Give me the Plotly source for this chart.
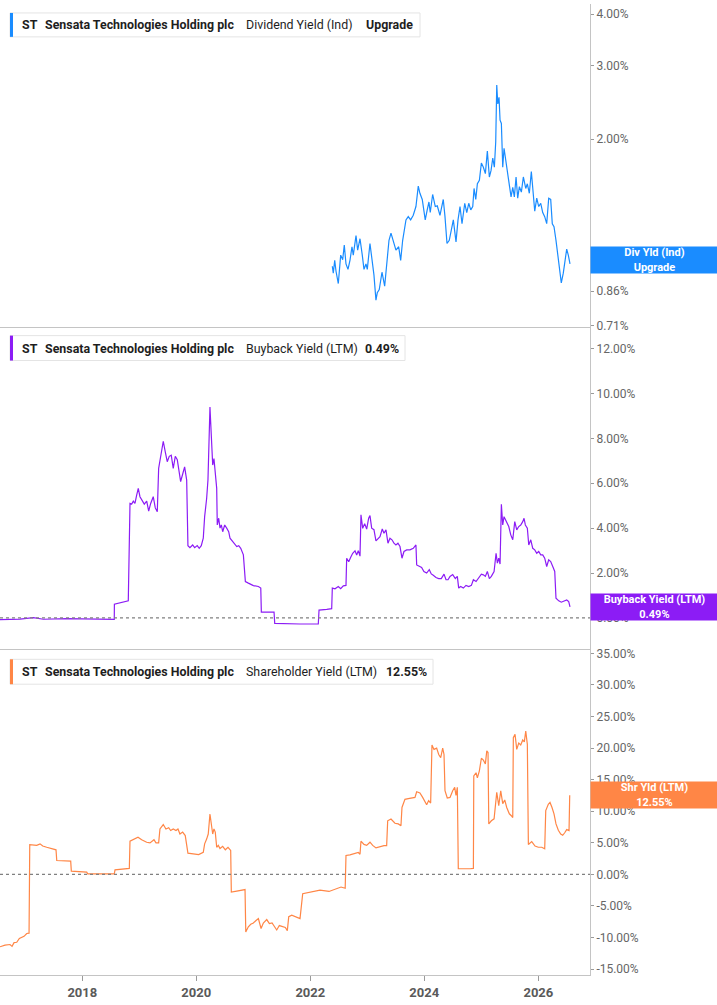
import math
import pandas as pd
import plotly.graph_objects as go

# ---- data (decimal years, values in %) ----
div_years = [2022.386, 2022.403, 2022.428, 2022.451, 2022.491, 2022.533, 2022.568, 2022.596, 2022.626, 2022.661,
             2022.696, 2022.731, 2022.754, 2022.802, 2022.831, 2022.872, 2022.912, 2022.942, 2022.977, 2023.000,
             2023.047, 2023.088, 2023.117, 2023.152, 2023.175, 2023.210, 2023.258, 2023.305, 2023.340, 2023.381,
             2023.416, 2023.456, 2023.503, 2023.551, 2023.586, 2023.621, 2023.679, 2023.719, 2023.761, 2023.807,
             2023.854, 2023.895, 2023.924, 2023.965, 2024.017, 2024.052, 2024.082, 2024.105, 2024.147, 2024.193,
             2024.228, 2024.275, 2024.333, 2024.363, 2024.398, 2024.438, 2024.486, 2024.509, 2024.556, 2024.591,
             2024.626, 2024.661, 2024.709, 2024.744, 2024.779, 2024.814, 2024.849, 2024.872, 2024.902, 2024.930,
             2024.965, 2025.000, 2025.035, 2025.070, 2025.105, 2025.140, 2025.170, 2025.200, 2025.228, 2025.252,
             2025.270, 2025.288, 2025.310, 2025.328, 2025.351, 2025.375, 2025.398, 2025.421, 2025.456, 2025.491,
             2025.521, 2025.551, 2025.579, 2025.609, 2025.638, 2025.667, 2025.702, 2025.737, 2025.779, 2025.807,
             2025.842, 2025.877, 2025.912, 2025.937, 2025.972, 2026.007, 2026.042, 2026.077, 2026.112, 2026.147,
             2026.182, 2026.217, 2026.245, 2026.275, 2026.310, 2026.340, 2026.368, 2026.403, 2026.438, 2026.468,
             2026.498, 2026.526, 2026.556]
div_vals = [0.987, 0.95, 1.02, 0.96, 0.897, 1.05, 1.024, 1.11, 1.0, 0.97,
            1.02, 1.10, 1.05, 1.17, 1.08, 1.15, 1.05, 0.97, 1.0, 0.97,
            1.12, 1.0, 0.94, 0.818, 0.852, 0.867, 0.955, 0.884, 1.0, 1.14,
            1.186, 1.14, 1.08, 1.10, 1.02, 1.14, 1.277, 1.30, 1.277, 1.31,
            1.375, 1.54, 1.48, 1.43, 1.277, 1.35, 1.41, 1.33, 1.47, 1.375,
            1.38, 1.31, 1.43, 1.30, 1.12, 1.14, 1.23, 1.277, 1.13, 1.277,
            1.375, 1.25, 1.40, 1.33, 1.40, 1.35, 1.375, 1.52, 1.43, 1.56,
            1.59, 1.75, 1.71, 1.65, 1.87, 1.62, 1.68, 1.80, 1.71, 1.97,
            2.70, 2.43, 2.52, 2.22, 2.18, 1.71, 1.90, 1.81, 1.65, 1.535,
            1.45, 1.53, 1.45, 1.62, 1.44, 1.535, 1.49, 1.62, 1.52, 1.56,
            1.48, 1.67, 1.45, 1.34, 1.44, 1.375, 1.40, 1.33, 1.30, 1.25,
            1.44, 1.43, 1.25, 1.23, 1.14, 1.06, 0.987, 0.90, 0.95, 1.02,
            1.086, 1.05, 1.0]

bb_years = [2016.556, 2016.907, 2017.140, 2017.316, 2017.726, 2018.193, 2018.561, 2018.563, 2018.807, 2018.837,
            2018.867, 2018.895, 2018.924, 2018.954, 2018.982, 2019.012, 2019.059, 2019.088, 2019.130, 2019.165,
            2019.200, 2019.245, 2019.281, 2019.316, 2019.340, 2019.363, 2019.393, 2019.421, 2019.456, 2019.491,
            2019.526, 2019.561, 2019.596, 2019.632, 2019.667, 2019.702, 2019.726, 2019.761, 2019.796, 2019.832,
            2019.854, 2019.889, 2019.937, 2019.972, 2020.017, 2020.052, 2020.088, 2020.123, 2020.147, 2020.182,
            2020.205, 2020.240, 2020.263, 2020.288, 2020.310, 2020.333, 2020.358, 2020.368, 2020.393, 2020.416,
            2020.439, 2020.463, 2020.498, 2020.533, 2020.568, 2020.591, 2020.638, 2020.674, 2020.709, 2020.744,
            2020.779, 2020.825, 2020.860, 2020.912, 2021.000, 2021.088, 2021.130, 2021.140, 2021.363, 2021.375,
            2021.586, 2021.819, 2022.140, 2022.153, 2022.288, 2022.375, 2022.386, 2022.433, 2022.491, 2022.533,
            2022.579, 2022.626, 2022.638, 2022.674, 2022.709, 2022.744, 2022.784, 2022.814, 2022.842, 2022.872,
            2022.889, 2022.919, 2022.954, 2022.989, 2023.024, 2023.047, 2023.077, 2023.117, 2023.152, 2023.187,
            2023.223, 2023.263, 2023.293, 2023.328, 2023.363, 2023.398, 2023.433, 2023.468, 2023.503, 2023.538,
            2023.574, 2023.609, 2023.644, 2023.691, 2023.749, 2023.807, 2023.854, 2023.867, 2023.912, 2023.954,
            2023.994, 2024.042, 2024.088, 2024.123, 2024.158, 2024.205, 2024.253, 2024.298, 2024.346, 2024.381,
            2024.416, 2024.451, 2024.498, 2024.544, 2024.579, 2024.603, 2024.638, 2024.684, 2024.731, 2024.779,
            2024.825, 2024.860, 2024.907, 2024.954, 2025.000, 2025.035, 2025.070, 2025.105, 2025.140, 2025.175,
            2025.223, 2025.258, 2025.281, 2025.305, 2025.328, 2025.351, 2025.375, 2025.398, 2025.433, 2025.481,
            2025.516, 2025.551, 2025.586, 2025.621, 2025.656, 2025.691, 2025.726, 2025.749, 2025.772, 2025.807,
            2025.832, 2025.867, 2025.902, 2025.937, 2025.972, 2026.007, 2026.042, 2026.077, 2026.112, 2026.147,
            2026.182, 2026.217, 2026.253, 2026.288, 2026.310, 2026.358, 2026.403, 2026.451, 2026.498, 2026.533,
            2026.556]
bb_vals = [-0.08, -0.05, 0.01, -0.06, -0.03, -0.06, -0.06, 0.61, 0.76, 5.10,
           5.07, 5.2, 5.1, 5.47, 5.77, 5.4, 5.2, 5.07, 5.2, 4.76,
           5.1, 5.4, 4.9, 4.73, 6.66, 6.96, 7.33, 7.87, 7.4, 6.96,
           7.2, 7.25, 6.66, 7.2, 7.05, 6.5, 6.07, 6.4, 6.73, 6.14,
           3.22, 3.13, 3.25, 3.13, 3.22, 3.1, 3.22, 3.55, 4.51, 5.32,
           6.14, 9.4, 7.84, 6.81, 7.1, 6.36, 5.77, 4.14, 4.44, 4.0,
           4.14, 3.84, 4.14, 4.0, 3.84, 3.55, 3.4, 3.25, 3.18, 3.22,
           3.1, 2.81, 1.62, 1.55, 1.44, 1.4, 1.33, 0.26, 0.26, -0.24,
           -0.26, -0.27, -0.27, 0.35, 0.38, 0.41, 1.33, 1.3, 1.4, 1.3,
           1.43, 1.45, 2.66, 2.5, 2.7, 2.88, 2.99, 2.8, 3.0, 2.75,
           4.59, 3.99, 4.2, 3.96, 4.44, 4.56, 4.0, 3.93, 3.43, 3.55,
           3.62, 3.96, 3.77, 3.92, 3.33, 3.55, 3.48, 3.33, 3.25, 3.33,
           3.18, 2.66, 2.96, 3.03, 3.03, 3.1, 3.25, 2.36, 2.29, 2.25,
           2.07, 2.0, 2.15, 1.96, 1.9, 1.8, 1.75, 1.75, 1.95, 1.7,
           1.7, 1.85, 1.93, 1.75, 1.85, 1.33, 1.4, 1.33, 1.45, 1.4,
           1.45, 1.7, 1.62, 1.8, 1.95, 1.92, 1.85, 2.07, 1.75, 1.85,
           2.07, 2.88, 2.44, 2.66, 2.4, 5.06, 4.14, 4.51, 4.29, 4.07,
           3.7, 3.48, 4.29, 3.92, 4.07, 4.14, 4.29, 4.44, 4.14, 4.0,
           3.25, 3.48, 3.1, 3.03, 2.88, 2.96, 2.81, 2.81, 2.66, 2.29,
           2.59, 2.51, 2.29, 2.07, 0.88, 0.76, 0.7, 0.76, 0.8, 0.73,
           0.49]

shy_years = [2016.556, 2016.644, 2016.731, 2016.767, 2016.802, 2016.849, 2016.895, 2016.937, 2016.977, 2017.024,
             2017.065, 2017.077, 2017.140, 2017.200, 2017.258, 2017.305, 2017.375, 2017.463, 2017.538, 2017.551,
             2017.667, 2017.796, 2017.807, 2017.960, 2018.077, 2018.095, 2018.310, 2018.561, 2018.574, 2018.719,
             2018.825, 2018.837, 2018.895, 2018.977, 2019.042, 2019.130, 2019.188, 2019.258, 2019.293, 2019.340,
             2019.363, 2019.421, 2019.468, 2019.516, 2019.551, 2019.596, 2019.644, 2019.679, 2019.714, 2019.761,
             2019.807, 2019.854, 2019.947, 2020.042, 2020.123, 2020.147, 2020.182, 2020.210, 2020.240, 2020.263,
             2020.288, 2020.310, 2020.333, 2020.358, 2020.386, 2020.416, 2020.463, 2020.509, 2020.556, 2020.603,
             2020.614, 2020.709, 2020.854, 2020.867, 2020.912, 2020.954, 2021.000, 2021.047, 2021.088, 2021.135,
             2021.175, 2021.235, 2021.281, 2021.328, 2021.363, 2021.410, 2021.456, 2021.516, 2021.561, 2021.596,
             2021.621, 2021.674, 2021.749, 2021.819, 2021.866, 2022.012, 2022.170, 2022.328, 2022.493, 2022.539,
             2022.612, 2022.626, 2022.696, 2022.784, 2022.842, 2022.872, 2022.889, 2022.942, 2022.989, 2023.047,
             2023.095, 2023.152, 2023.223, 2023.293, 2023.340, 2023.358, 2023.416, 2023.486, 2023.544, 2023.591,
             2023.609, 2023.661, 2023.719, 2023.779, 2023.837, 2023.867, 2023.924, 2023.972, 2024.007, 2024.042,
             2024.077, 2024.112, 2024.135, 2024.170, 2024.217, 2024.253, 2024.288, 2024.323, 2024.346, 2024.363,
             2024.403, 2024.451, 2024.498, 2024.533, 2024.556, 2024.579, 2024.596, 2024.684, 2024.802, 2024.860,
             2024.867, 2024.907, 2024.930, 2024.965, 2025.000, 2025.035, 2025.070, 2025.095, 2025.117, 2025.130,
             2025.175, 2025.223, 2025.270, 2025.305, 2025.340, 2025.375, 2025.410, 2025.445, 2025.491, 2025.526,
             2025.551, 2025.561, 2025.591, 2025.621, 2025.656, 2025.691, 2025.726, 2025.754, 2025.779, 2025.807,
             2025.825, 2025.884, 2025.942, 2026.000, 2026.060, 2026.112, 2026.130, 2026.175, 2026.205, 2026.240,
             2026.275, 2026.310, 2026.351, 2026.393, 2026.428, 2026.463, 2026.498, 2026.539, 2026.551]
shy_vals = [-11.46, -11.2, -11.1, -11.4, -10.8, -10.75, -10.15, -9.9, -9.8, -9.36,
            -9.3, 4.73, 4.68, 4.6, 4.84, 4.5, 4.3, 4.1, 3.9, 2.2,
            2.15, 2.1, 0.53, 0.5, 0.37, 0.1, 0.1, 0.1, 0.73, 0.85,
            0.95, 5.26, 5.5, 5.9, 5.5, 5.1, 5.0, 5.5, 5.0, 5.0,
            7.2, 7.9, 7.2, 7.4, 6.95, 7.2, 6.95, 7.2, 6.4, 6.7,
            6.15, 3.36, 3.25, 3.15, 3.5, 4.84, 5.6, 6.4, 9.57, 7.7,
            6.4, 7.2, 6.7, 4.3, 4.6, 4.1, 4.45, 3.9, 4.3, 3.8,
            -2.8, -2.65, -2.4, -9.1, -8.3, -7.9, -7.7, -7.3, -7.0, -8.57,
            -7.7, -7.15, -7.8, -7.7, -8.1, -8.8, -8.1, -8.3, -8.4, -8.9,
            -6.7, -6.45, -6.7, -7.0, -3.05, -2.8, -2.5, -2.7, -2.1, -2.0,
            -2.2, 3.0, 3.1, 3.3, 3.47, 3.2, 5.26, 4.75, 4.6, 5.1,
            4.6, 4.2, 4.4, 4.55, 4.55, 8.5, 8.78, 8.1, 8.0, 7.7,
            10.6, 11.9, 12.0, 12.1, 12.2, 13.1, 12.9, 12.2, 11.5, 11.04,
            11.7, 11.3, 20.5, 19.8, 20.0, 19.0, 18.5, 20.0, 19.0, 13.25,
            12.1, 12.2, 13.25, 13.8, 12.5, 13.8, 0.9, 0.85, 0.9, 0.95,
            15.6, 16.1, 15.3, 16.4, 18.4, 18.1, 17.5, 19.56, 19.3, 8.0,
            8.5, 8.8, 13.0, 10.9, 13.25, 11.2, 11.8, 10.6, 9.6, 9.3,
            9.0, 21.65, 22.2, 19.8, 20.8, 20.5, 21.3, 21.0, 22.7, 20.6,
            4.73, 5.2, 4.5, 4.3, 4.3, 4.05, 10.1, 11.1, 11.4, 10.6,
            9.6, 8.0, 7.0, 6.4, 6.2, 6.6, 7.1, 6.94, 12.55]

div_ticks = [0.71, 0.86, 1.0, 2.0, 3.0, 4.0]
bb_ticks = [0, 2, 4, 6, 8, 10, 12]
shy_ticks = [-15, -10, -5, 0, 5, 10, 15, 20, 25, 30, 35]
year_ticks = [2018, 2020, 2022, 2024, 2026]

BLUE = "#1a8cff"
PURPLE = "#8c1cf5"
ORANGE = "#ff8646"
FONT = "Roboto"

W, H = 717, 1005
PW, PH = 590, 975  # plot area in px


def to_date(yr):
    y = int(yr)
    start = pd.Timestamp(year=y, month=1, day=1)
    end = pd.Timestamp(year=y + 1, month=1, day=1)
    return start + (end - start) * (yr - y)


def to_dates(years):
    return [to_date(v) for v in years]


def px_x(p):
    return p / PW


def px_y(p):
    return 1 - p / PH


def dom(top, bot):
    return [1 - bot / PH, 1 - top / PH]


fig = go.Figure()
fig.add_trace(go.Scatter(x=to_dates(div_years), y=div_vals, mode="lines", xaxis="x", yaxis="y",
                         line=dict(color=BLUE, width=1.2), hoverinfo="skip"))
fig.add_trace(go.Scatter(x=to_dates(bb_years), y=bb_vals, mode="lines", xaxis="x2", yaxis="y2",
                         line=dict(color=PURPLE, width=1.2), hoverinfo="skip"))
fig.add_trace(go.Scatter(x=to_dates(shy_years), y=shy_vals, mode="lines", xaxis="x3", yaxis="y3",
                         line=dict(color=ORANGE, width=1.2), hoverinfo="skip"))

xrange = [to_date(2016.556), to_date(2026.907)]
xbase = dict(range=xrange, type="date", showgrid=False, zeroline=False, showline=True,
             linecolor="#c4c4c4", linewidth=1)
ybase = dict(side="right", showgrid=False, zeroline=False, showline=True, linecolor="#c4c4c4",
             linewidth=1, ticks="outside", ticklen=3, tickcolor="#9a9a9a",
             tickfont=dict(family=FONT, size=12, color="#666666"))

fig.update_layout(
    width=W, height=H,
    margin=dict(l=0, r=W - PW, t=0, b=H - PH),
    paper_bgcolor="white", plot_bgcolor="white",
    showlegend=False,
    font=dict(family=FONT),
    xaxis=dict(xbase, anchor="y", showticklabels=False, ticks=""),
    xaxis2=dict(xbase, anchor="y2", showticklabels=False, ticks="", matches="x"),
    xaxis3=dict(xbase, anchor="y3", matches="x", ticks="outside", ticklen=5, tickcolor="#9a9a9a",
                tickvals=[to_date(y) for y in year_ticks], ticktext=[str(y) for y in year_ticks],
                tickfont=dict(family=FONT, size=13, color="#5a5a5a", weight="bold")),
    yaxis=dict(ybase, anchor="x", domain=dom(0, 324), type="log",
               range=[math.log10(0.706), math.log10(4.23)],
               tickvals=div_ticks, ticktext=[f"{v:.2f}%" for v in div_ticks]),
    yaxis2=dict(ybase, anchor="x2", domain=dom(325, 648), range=[-1.4, 12.93],
                tickvals=bb_ticks, ticktext=[f"{v:.2f}%" for v in bb_ticks]),
    yaxis3=dict(ybase, anchor="x3", domain=dom(649, PH), range=[-15.93, 35.49],
                tickvals=shy_ticks, ticktext=[f"{v:.2f}%" for v in shy_ticks]),
)

# dotted zero lines
for yr in ["y2", "y3"]:
    fig.add_shape(type="line", xref="paper", yref=yr, x0=0, x1=1, y0=0, y1=0,
                  line=dict(color="#808080", width=1.2, dash="dot"))

# header boxes
headers = [
    (9, 33, 420, BLUE, "Dividend Yield (Ind)", "Upgrade", 364),
    (333, 358, 405, PURPLE, "Buyback Yield (LTM)", "0.49%", 363),
    (658, 683, 433, ORANGE, "Shareholder Yield (LTM)", "12.55%", 384),
]
for top, bot, right, col, metric, value, vx in headers:
    fig.add_shape(type="rect", xref="paper", yref="paper", x0=px_x(10), x1=px_x(right),
                  y0=px_y(bot), y1=px_y(top), fillcolor="white",
                  line=dict(color="#e4e4e4", width=1), layer="above")
    fig.add_shape(type="rect", xref="paper", yref="paper", x0=px_x(10), x1=px_x(13),
                  y0=px_y(bot), y1=px_y(top), fillcolor=col, line=dict(width=0), layer="above")
    yc = px_y((top + bot) / 2)
    parts = [(20, "<b>ST</b>"), (43, "<b>Sensata Technologies Holding plc</b>"),
             (244, metric), (vx, f"<b>{value}</b>")]
    for x, txt in parts:
        fig.add_annotation(x=px_x(x), y=yc, xref="paper", yref="paper", text=txt,
                           showarrow=False, xanchor="left", yanchor="middle",
                           font=dict(family=FONT, size=12.4, color="#1e1e1e"))

# last-value labels on the right axis
tags = [
    (257, BLUE, "Div Yld (Ind)<br>Upgrade"),
    (605.5, PURPLE, "Buyback Yield (LTM)<br>0.49%"),
    (794.5, ORANGE, "Shr Yld (LTM)<br>12.55%"),
]
for yc, col, txt in tags:
    fig.add_annotation(x=1, y=px_y(yc), xref="paper", yref="paper", text=f"<b>{txt}</b>",
                       showarrow=False, xanchor="left", yanchor="middle", align="center",
                       width=W - PW, height=26, bgcolor=col, borderpad=0,
                       font=dict(family=FONT, size=11, color="white"))

fig.write_html("out.html", config={"displayModeBar": False},
               post_script="document.body.style.margin='0';")
